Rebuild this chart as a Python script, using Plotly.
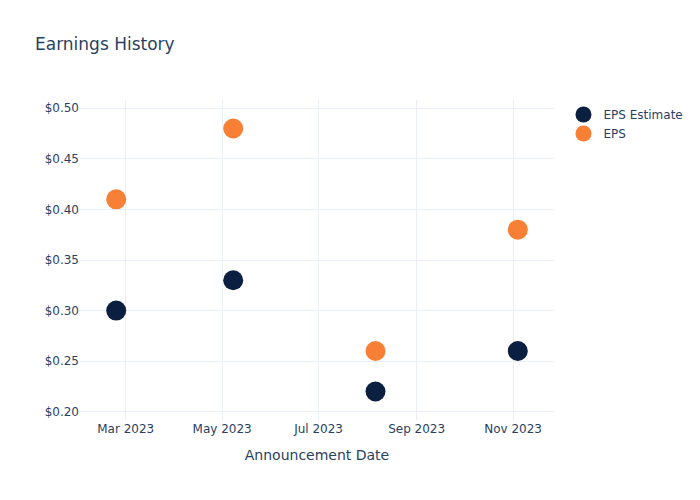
import plotly.graph_objects as go

dates = ["2023-02-23", "2023-05-08", "2023-08-06", "2023-11-04"]
eps_estimate = [0.30, 0.33, 0.22, 0.26]
eps_actual = [0.41, 0.48, 0.26, 0.38]

fig = go.Figure()
fig.add_trace(go.Scatter(x=dates, y=eps_estimate, mode="markers", name="EPS Estimate",
                         marker=dict(size=20, color="#0b1f40")))
fig.add_trace(go.Scatter(x=dates, y=eps_actual, mode="markers", name="EPS",
                         marker=dict(size=20, color="#f78036")))
fig.update_layout(
    template="plotly_white",
    width=700, height=500,
    font=dict(family="DejaVu Sans"),
    title=dict(text="Earnings History"),
    xaxis=dict(title="Announcement Date"),
    yaxis=dict(tickprefix="$", tickformat=".2f"),
)
fig.write_html("out.html")
